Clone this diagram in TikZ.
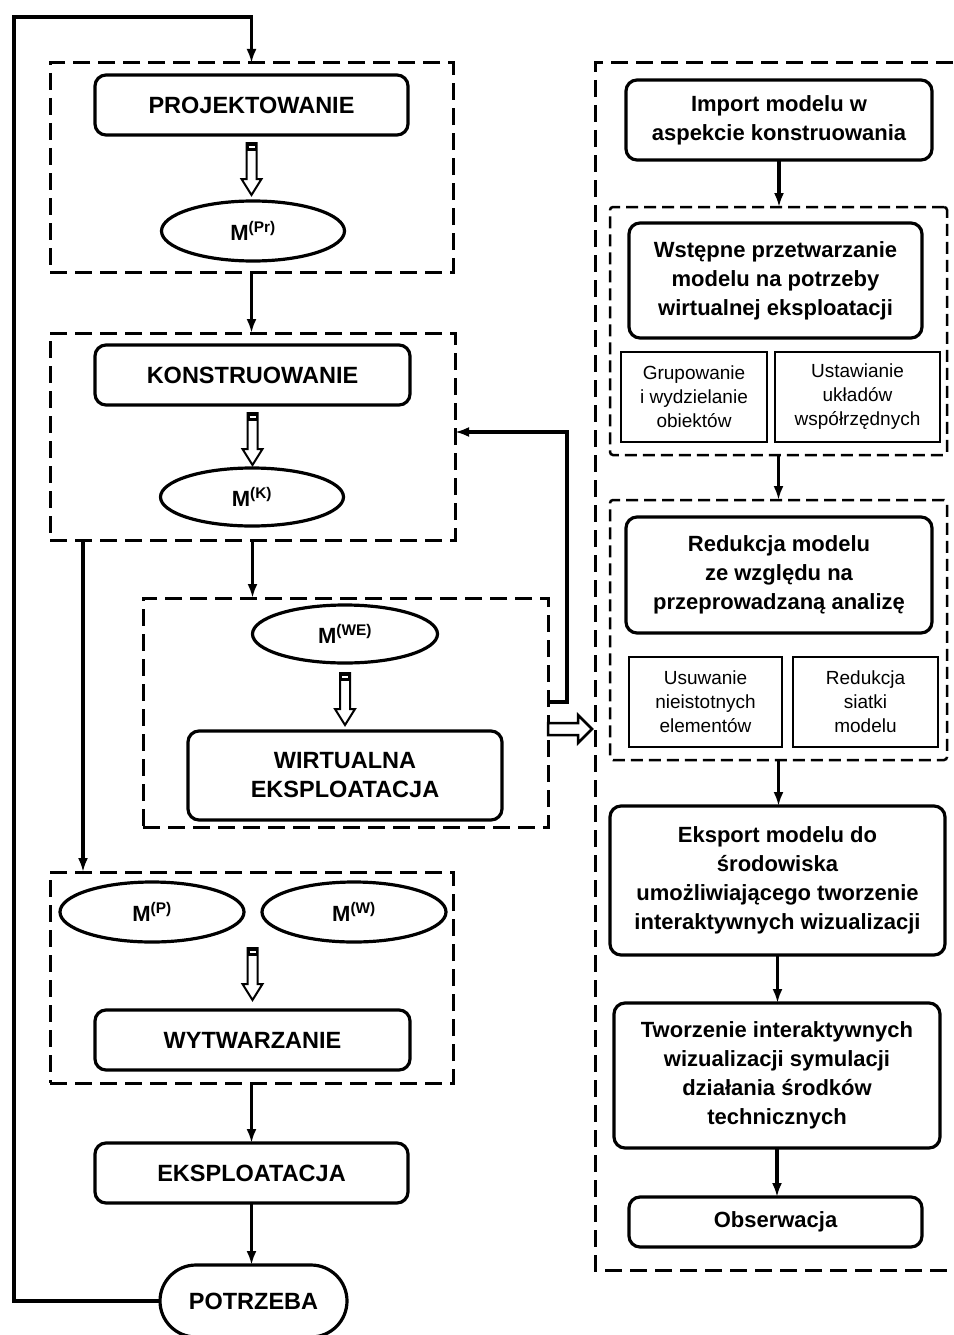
\documentclass[tikz,border=0pt]{standalone}
\usepackage{fontspec}
\setmainfont{Liberation Sans}
\usetikzlibrary{shapes.geometric,arrows.meta,calc}
\begin{document}
\begin{tikzpicture}[x=1pt,y=-1pt,
 sz/.style 2 args={minimum width=#1pt,minimum height=#2pt},
 bfont/.style={font=\fontsize{22}{29}\selectfont\bfseries},
 capfont/.style={font=\fontsize{23.5}{29}\selectfont\bfseries},
 rbox/.style={draw, rounded corners=11pt, line width=3.2pt, align=center, inner sep=0pt, outer sep=0pt, bfont},
 sbox/.style={draw, line width=2pt, align=center, inner sep=0pt, outer sep=0pt, font=\fontsize{19}{24}\selectfont},
 ell/.style={ellipse, draw, line width=3.2pt, inner sep=0pt, outer sep=0pt, font=\fontsize{22}{26}\selectfont\bfseries},
 frame/.style={draw, line width=3pt, dash pattern=on 17pt off 8pt, inner sep=0pt, outer sep=0pt},
 iframe/.style={draw, line width=2.5pt, dash pattern=on 12pt off 6pt, rounded corners=3pt, inner sep=0pt, outer sep=0pt},
 arr/.style={line width=3.4pt, -{Latex[length=14pt,width=10pt]}},
 hollowdown/.pic={
   \draw[line width=2pt, fill=white, line join=miter] (-5,0) -- (-5,36) -- (-10,36) -- (0,52) -- (10,36) -- (5,36) -- (5,0) -- cycle;
   \fill (-5,0) rectangle (5,8);
   \draw[white,line width=1.2pt] (-3,4) -- (3,4);},
 hollowright/.pic={
   \draw[line width=2.5pt, fill=white, line join=miter] (0,-6) -- (30,-6) -- (30,-14) -- (44,0) -- (30,14) -- (30,6) -- (0,6) -- cycle;}
]
\useasboundingbox (0,0) rectangle (953,1335);

% ---------- left column ----------
\node[frame, sz={403}{209}] (f1) at (251.5,167.5) {};
\node[frame, sz={405}{207}] (f2) at (252.5,436.5) {};
\node[frame, sz={405}{229}] (f3) at (345.5,712.5) {};
\node[frame, sz={403}{211}] (f4) at (251.5,977.5) {};

\node[rbox, capfont, sz={313}{60}] (proj) at (251.5,105) {PROJEKTOWANIE};
\node[ell, sz={183}{60}] (ePr) at (253,231) {M\textsuperscript{(Pr)}};
\node[rbox, capfont, sz={315}{60}] (kon) at (252.5,375) {KONSTRUOWANIE};
\node[ell, sz={183}{58}] (eK) at (252,497) {M\textsuperscript{(K)}};
\node[ell, sz={185}{58}] (eWE) at (345,634) {M\textsuperscript{(WE)}};
\node[rbox, capfont, sz={314}{89}] (wirt) at (345,775.5) {WIRTUALNA\\EKSPLOATACJA};
\node[ell, sz={184}{60}] (eP) at (152,912) {M\textsuperscript{(P)}};
\node[ell, sz={184}{60}] (eW) at (354,912) {M\textsuperscript{(W)}};
\node[rbox, capfont, sz={315}{60}] (wyt) at (252.5,1040) {WYTWARZANIE};
\node[rbox, capfont, sz={313}{60}] (eks) at (251.5,1173) {EKSPLOATACJA};
\node[rbox, capfont, rounded corners=36pt, sz={187}{72}] (potr) at (253.5,1301) {POTRZEBA};

\pic at ($(proj.south)+(0,8)$) {hollowdown};
\pic at ($(kon.south)+(0,8)$) {hollowdown};
\pic at ($(eWE.south)+(0,10)$) {hollowdown};
\pic at ($(wyt.north)+(0,-62)$) {hollowdown};
\pic at ($(f3.east)+(0,16.5)$) {hollowright};

\coordinate (lt) at (14,17);
\coordinate (lb) at (14,1301);
\draw[arr] (potr.west) -- (lb) -- (lt) -- (lt -| f1.north) -- (f1.north);
\draw[arr] (f1.south) -- (f1.south |- f2.north);
\draw[arr] (f2.south) -- (f2.south |- f3.north);
\coordinate (dl) at ($(f2.south west)+(33,0)$);
\draw[arr] (dl) -- (dl |- f4.north);
\coordinate (fbS) at ($(f3.east)+(0,-10.5)$);
\coordinate (fbT) at ($(f2.east)+(0,-4.5)$);
\coordinate (fbR) at (567,432);
\draw[arr] (fbS) -- (fbS -| fbR) -- (fbR) -- (fbT);
\draw[arr] (f4.south) -- (f4.south |- eks.north);
\draw[arr] (eks.south) -- (eks.south |- potr.north);

% ---------- right column ----------
\draw[frame] (953,63) -- (595,63) -- (595,1270) -- (953,1270);

\node[rbox, sz={306}{80}] (imp) at (779,120) {Import modelu w\\aspekcie konstruowania};
\node[iframe, sz={337}{248}] (fr1) at (778.5,331) {};
\node[rbox, sz={293}{115}] (wst) at (775.5,280.5) {Wstępne przetwarzanie\\modelu na potrzeby\\wirtualnej eksploatacji};
\node[sbox, sz={146}{90}] (grp) at (694,397) {Grupowanie\\i wydzielanie\\obiektów};
\node[sbox, sz={165}{90}] (ust) at (857.5,397) {Ustawianie\\układów\\współrzędnych};
\node[iframe, sz={337}{260}] (fr2) at (778.5,630) {};
\node[rbox, sz={306}{116}] (red) at (779,575) {Redukcja modelu\\ze względu na\\przeprowadzaną analizę};
\node[sbox, sz={153}{90}] (usu) at (705.5,702) {Usuwanie\\nieistotnych\\elementów};
\node[sbox, sz={145}{90}] (rsi) at (865.5,702) {Redukcja\\siatki\\modelu};
\node[rbox, sz={335}{149}] (expo) at (777.5,880.5) {Eksport modelu do\\środowiska\\umożliwiającego tworzenie\\interaktywnych wizualizacji};
\node[rbox, sz={326}{145}] (twor) at (777,1075.5) {Tworzenie interaktywnych\\wizualizacji symulacji\\działania środków\\technicznych};
\node[rbox, sz={293}{50}] (obs) at (775.5,1222) {Obserwacja};

\draw[arr] (imp.south) -- (imp.south |- fr1.north);
\draw[arr] (fr1.south) -- (fr1.south |- fr2.north);
\draw[arr] (fr2.south) -- (fr2.south |- expo.north);
\draw[arr] (expo.south) -- (expo.south |- twor.north);
\draw[arr] (twor.south) -- (twor.south |- obs.north);
\end{tikzpicture}
\end{document}
